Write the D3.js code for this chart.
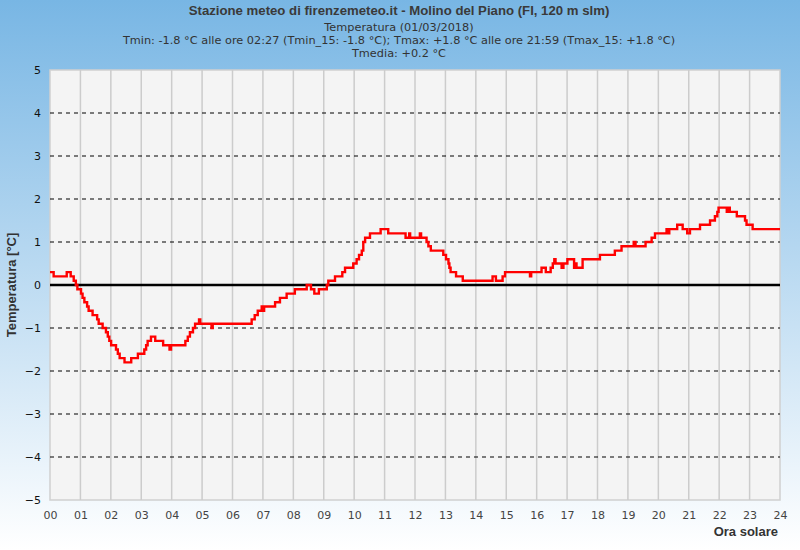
<!DOCTYPE html>
<html><head><meta charset="utf-8">
<script src="https://cdn.jsdelivr.net/npm/d3@7"></script>
<style>body{margin:0;padding:0;overflow:hidden}svg{display:block}</style>
</head><body>
<svg id="chart" width="800" height="550"></svg>
<script>
const title = "Stazione meteo di firenzemeteo.it - Molino del Piano (FI, 120 m slm)";
const subtitle = ["Temperatura (01/03/2018)",
  "Tmin: -1.8 °C alle ore 02:27 (Tmin_15: -1.8 °C); Tmax: +1.8 °C alle ore 21:59 (Tmax_15: +1.8 °C)",
  "Tmedia: +0.2 °C"];
const xTicks = ["00","01","02","03","04","05","06","07","08","09","10","11","12","13","14","15","16","17","18","19","20","21","22","23","24"];
const yTicks = [-5,-4,-3,-2,-1,0,1,2,3,4,5];
const hours = [0.00,0.12,0.55,0.68,0.78,0.85,0.90,1.02,1.07,1.13,1.22,1.27,1.40,1.55,1.60,1.73,1.84,1.90,1.95,2.01,2.17,2.23,2.29,2.45,2.67,2.89,3.10,3.16,3.21,3.32,3.46,3.72,3.93,3.98,4.45,4.53,4.60,4.70,4.77,4.90,4.94,5.31,5.35,6.63,6.73,6.83,6.96,7.00,7.04,7.40,7.56,7.78,8.05,8.44,8.58,8.69,8.84,9.10,9.15,9.37,9.61,9.70,9.97,10.08,10.16,10.25,10.30,10.36,10.52,10.87,11.12,11.69,11.81,11.84,12.16,12.20,12.38,12.44,12.52,12.93,13.02,13.10,13.13,13.17,13.35,13.57,14.55,14.66,14.88,14.96,15.10,15.78,15.82,16.16,16.30,16.46,16.53,16.58,16.62,16.82,16.88,17.01,17.23,17.27,17.31,17.51,18.08,18.57,18.79,19.19,19.25,19.58,19.78,19.89,20.27,20.31,20.36,20.62,20.80,20.95,21.04,21.37,21.70,21.86,21.94,21.98,22.25,22.30,22.35,22.58,22.85,22.90,23.10,24.00];
const temps = [0.3,0.2,0.3,0.2,0.1,0.0,-0.1,-0.2,-0.3,-0.4,-0.5,-0.6,-0.7,-0.8,-0.9,-1.0,-1.1,-1.2,-1.3,-1.4,-1.5,-1.6,-1.7,-1.8,-1.7,-1.6,-1.5,-1.4,-1.3,-1.2,-1.3,-1.4,-1.5,-1.4,-1.3,-1.2,-1.1,-1.0,-0.9,-0.8,-0.9,-1.0,-0.9,-0.8,-0.7,-0.6,-0.5,-0.6,-0.5,-0.4,-0.3,-0.2,-0.1,0.0,-0.1,-0.2,-0.1,0.0,0.1,0.2,0.3,0.4,0.5,0.6,0.7,0.8,1.0,1.1,1.2,1.3,1.2,1.1,1.2,1.1,1.2,1.1,1.0,0.9,0.8,0.7,0.6,0.5,0.4,0.3,0.2,0.1,0.2,0.1,0.2,0.3,0.3,0.2,0.3,0.4,0.3,0.4,0.5,0.6,0.5,0.4,0.5,0.6,0.4,0.5,0.4,0.6,0.7,0.8,0.9,1.0,0.9,1.0,1.1,1.2,1.3,1.2,1.3,1.4,1.3,1.2,1.3,1.4,1.5,1.6,1.7,1.8,1.7,1.8,1.7,1.6,1.5,1.4,1.3,1.3];

const svg = d3.select("#chart");
const W = 800, H = 550;
const m = {left:50, right:20, top:70, bottom:50};
const defs = svg.append("defs");
const grad = defs.append("linearGradient").attr("id","bg").attr("x1",0).attr("y1",0).attr("x2",0).attr("y2",1);
grad.append("stop").attr("offset","0%").attr("stop-color","#78b6e4");
grad.append("stop").attr("offset","100%").attr("stop-color","#ffffff");
svg.append("rect").attr("width",W).attr("height",H).attr("fill","url(#bg)");

const x = d3.scaleLinear().domain([0,24]).range([m.left, W-m.right]);
const y = d3.scaleLinear().domain([-5,5]).range([H-m.bottom, m.top]);

svg.append("rect").attr("x",x(0)).attr("y",y(5)).attr("width",x(24)-x(0)).attr("height",y(-5)-y(5))
  .attr("fill","#f4f4f4").attr("stroke","#d0d0d0").attr("stroke-width",1.5);

// vertical grid
svg.append("g").selectAll("line").data(d3.range(1,24)).join("line")
  .attr("x1",d=>x(d)).attr("x2",d=>x(d)).attr("y1",y(5)).attr("y2",y(-5))
  .attr("stroke","#cccccc").attr("stroke-width",1.5);
// horizontal dashed
svg.append("g").selectAll("line").data(yTicks.filter(d=>d!==0 && Math.abs(d)!==5)).join("line")
  .attr("x1",x(0)).attr("x2",x(24)).attr("y1",d=>y(d)).attr("y2",d=>y(d))
  .attr("stroke","#000").attr("stroke-width",1).attr("stroke-dasharray","4,4");
// zero line
svg.append("line").attr("x1",x(0)).attr("x2",x(24)).attr("y1",y(0)).attr("y2",y(0))
  .attr("stroke","#000").attr("stroke-width",2.5);

// axes
const yAxis = d3.axisLeft(y).tickValues(yTicks).tickSize(0).tickPadding(9).tickFormat(d3.format("d"));
const gy = svg.append("g").attr("transform",`translate(${x(0)},0)`).call(yAxis);
gy.select(".domain").remove();
gy.selectAll("text").attr("font-family","DejaVu Sans").attr("font-size",11).attr("fill","#111");

const xAxis = d3.axisBottom(x).tickValues(d3.range(0,25)).tickSize(0).tickPadding(11).tickFormat(d=>xTicks[d]);
const gx = svg.append("g").attr("transform",`translate(0,${y(-5)})`).call(xAxis);
gx.select(".domain").remove();
gx.selectAll("text").attr("font-family","DejaVu Sans").attr("font-size",11).attr("fill","#444");

// data line
const data = hours.map((h,i)=>({h, t:temps[i]}));
const line = d3.line().x(d=>x(d.h)).y(d=>y(d.t)).curve(d3.curveStepAfter);
svg.append("path").datum(data).attr("d",line).attr("fill","none")
  .attr("stroke","#ff0000").attr("stroke-width",2.4).attr("stroke-linejoin","miter");

// titles
svg.append("text").attr("x",399).attr("y",15).attr("text-anchor","middle")
  .attr("font-family","Liberation Sans, Arial").attr("font-weight","bold").attr("font-size",13.2)
  .attr("fill","#3a3a3a").text(title);
svg.selectAll(".sub").data(subtitle).join("text").attr("class","sub")
  .attr("x",399).attr("y",(d,i)=>31+i*13).attr("text-anchor","middle")
  .attr("font-family","DejaVu Sans").attr("font-size",11.3).attr("fill","#333").text(d=>d);

svg.append("text").attr("transform",`translate(16,${y(0)}) rotate(-90)`).attr("text-anchor","middle")
  .attr("font-family","Liberation Sans, Arial").attr("font-weight","bold").attr("font-size",13)
  .attr("fill","#333").text("Temperatura [°C]");
svg.append("text").attr("x",778).attr("y",536).attr("text-anchor","end")
  .attr("font-family","Liberation Sans, Arial").attr("font-weight","bold").attr("font-size",13)
  .attr("fill","#333").text("Ora solare");
</script>
</body></html>
